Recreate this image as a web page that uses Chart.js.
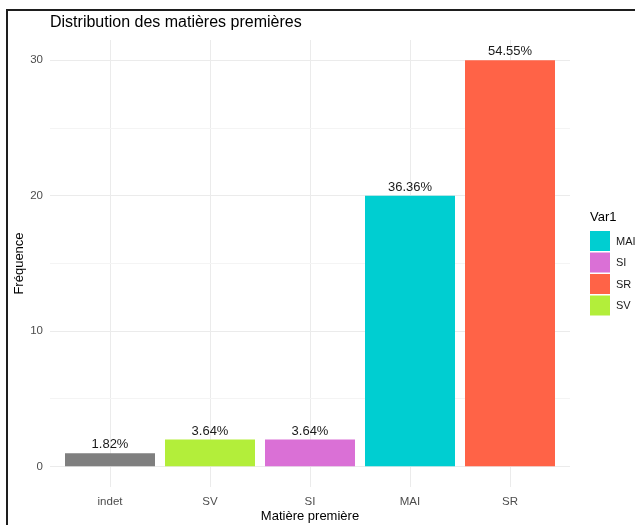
<!DOCTYPE html>
<html>
<head>
<meta charset="utf-8">
<script src="https://cdn.jsdelivr.net/npm/chart.js@4/dist/chart.umd.min.js"></script>
<style>
  html, body { margin: 0; padding: 0; background: #fff; overflow: hidden; }
  #wrap { position: relative; width: 635px; height: 525px; }
  #frame { position: absolute; left: 6px; top: 9px; width: 700px; height: 600px;
           border-top: 2px solid #1e1e1e; border-left: 2px solid #1e1e1e; pointer-events: none; }
  canvas { position: absolute; left: 0; top: 0; }
</style>
</head>
<body>
<div id="wrap">
  <canvas id="c" width="635" height="525"></canvas>
  <div id="frame"></div>
</div>
<script>
// Raw-material counts, in axis order
const categories = ['indet', 'SV', 'SI', 'MAI', 'SR'];
const counts = [1, 2, 2, 20, 30];
const barColors = ['#7F7F7F', '#B3EE3A', '#DA70D6', '#00CED1', '#FF6347'];

// Legend entries (Var1) and their fills
const legendLabels = ['MAI', 'SI', 'SR', 'SV'];
const legendColors = ['#00CED1', '#DA70D6', '#FF6347', '#B3EE3A'];

// Y axis: labelled ticks and minor grid positions
const yMajor = [0, 10, 20, 30];
const yMinor = [5, 15, 25];

const total = counts.reduce((a, b) => a + b, 0);
const FONT = '"Liberation Sans", Arial, sans-serif';

// Percentage labels above each bar
const valueLabels = {
  id: 'valueLabels',
  afterDatasetsDraw(chart) {
    const ctx = chart.ctx;
    const meta = chart.getDatasetMeta(0);
    ctx.save();
    ctx.font = '13px ' + FONT;
    ctx.fillStyle = '#1a1a1a';
    ctx.textAlign = 'center';
    ctx.textBaseline = 'alphabetic';
    meta.data.forEach((bar, i) => {
      const pct = (counts[i] / total * 100).toFixed(2) + '%';
      ctx.fillText(pct, bar.x, bar.y - 5);
    });
    ctx.restore();
  }
};

// Fill legend on the right side, titled "Var1"
const sideLegend = {
  id: 'sideLegend',
  afterDraw(chart) {
    const ctx = chart.ctx;
    const x0 = chart.chartArea.right + 20;
    ctx.save();
    ctx.font = '13px ' + FONT;
    ctx.fillStyle = '#000';
    ctx.textAlign = 'left';
    ctx.textBaseline = 'middle';
    ctx.fillText('Var1', x0, 217);
    ctx.font = '11px ' + FONT;
    legendLabels.forEach((lab, i) => {
      const top = 231 + i * 21.5;
      ctx.fillStyle = legendColors[i];
      ctx.fillRect(x0, top, 20, 20);
      ctx.fillStyle = '#1a1a1a';
      ctx.fillText(lab, x0 + 26, top + 10.5);
    });
    ctx.restore();
  }
};

new Chart(document.getElementById('c'), {
  type: 'bar',
  data: {
    datasets: [{
      data: categories.map((c, i) => ({ x: i + 1, y: counts[i] })),
      backgroundColor: barColors,
      borderWidth: 0,
      barPercentage: 0.9,
      categoryPercentage: 1.0
    }]
  },
  options: {
    responsive: false,
    animation: false,
    layout: { padding: { left: 0, right: 65, top: 0, bottom: 0 } },
    plugins: {
      legend: { display: false },
      tooltip: { enabled: false },
      title: {
        display: true,
        text: 'Distribution des matières premières',
        align: 'start',
        fullSize: false,
        color: '#000',
        font: { family: FONT, size: 16, weight: 'normal' },
        padding: { top: 13.4, bottom: 7.4 }
      }
    },
    scales: {
      x: {
        type: 'linear',
        offset: false,
        min: 0.4,
        max: 5.6,
        afterBuildTicks(scale) {
          scale.ticks = categories.map((c, i) => ({ value: i + 1 }));
        },
        afterFit(scale) { scale.height = 38; },
        ticks: {
          autoSkip: false,
          maxRotation: 0,
          padding: 8,
          color: '#4D4D4D',
          font: { family: FONT, size: 11.5 },
          callback: (v) => categories[Math.round(v) - 1]
        },
        grid: { offset: false, color: '#EBEBEB', lineWidth: 1, drawTicks: false },
        border: { display: false },
        title: {
          display: true,
          text: 'Matière première',
          color: '#000',
          font: { family: FONT, size: 13 },
          padding: { top: 0, bottom: 1.2 }
        }
      },
      y: {
        type: 'linear',
        min: -1.5,
        max: 31.5,
        afterBuildTicks(scale) {
          scale.ticks = yMajor.concat(yMinor).sort((a, b) => a - b).map(v => ({ value: v }));
        },
        afterFit(scale) { scale.width = 50; },
        ticks: {
          autoSkip: false,
          padding: 7,
          color: '#4D4D4D',
          font: { family: FONT, size: 11.5 },
          callback: (v) => (yMajor.includes(v) ? String(v) : '')
        },
        grid: {
          drawTicks: false,
          color: (ctx) => (ctx.tick && yMajor.includes(ctx.tick.value) ? '#EBEBEB' : '#F4F4F4'),
          lineWidth: 1
        },
        border: { display: false },
        title: {
          display: true,
          text: 'Fréquence',
          color: '#000',
          font: { family: FONT, size: 13 },
          padding: { top: 12, bottom: 0 }
        }
      }
    }
  },
  plugins: [valueLabels, sideLegend]
});
</script>
</body>
</html>
